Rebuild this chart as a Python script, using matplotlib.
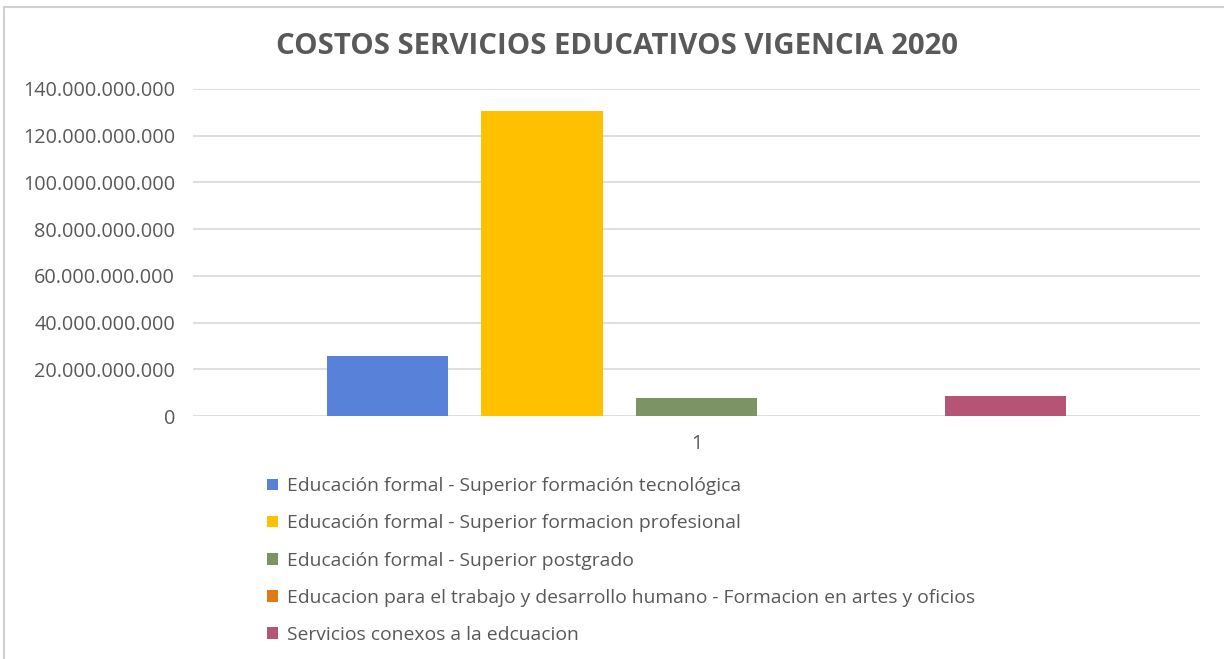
import matplotlib.pyplot as plt
from matplotlib.patches import Rectangle
from matplotlib.ticker import FuncFormatter

plt.rcParams['font.family'] = ['Open Sans', 'DejaVu Sans']

# Costs per service, 2020 (single category "1")
series = [
    "Educación formal - Superior formación tecnológica",
    "Educación formal - Superior formacion profesional",
    "Educación formal - Superior postgrado",
    "Educacion para el trabajo y desarrollo humano - Formacion en artes y oficios",
    "Servicios conexos a la edcuacion",
]
values = [25.7e9, 130.6e9, 7.6e9, 0.0, 8.6e9]
colors = ["#5882DA", "#FFC000", "#7C9363", "#E07B13", "#B55474"]
category = "1"
y_ticks = [0, 20e9, 40e9, 60e9, 80e9, 100e9, 120e9, 140e9]

fig = plt.figure(figsize=(12.24, 6.59), dpi=100)
fig.patches.append(Rectangle((4 / 1224, -0.01), 1.02, 1 - 7 / 659 + 0.01,
                             transform=fig.transFigure, fill=False,
                             edgecolor="#d0d0d0", linewidth=1.5))

ax = fig.add_axes([193 / 1224, 1 - 416 / 659, 1007 / 1224, 327 / 659])
pos = list(range(len(values)))
bars = []
for i, (v, c, lab) in enumerate(zip(values, colors, series)):
    bars.append(ax.bar(pos[i], v, width=0.785, color=c, label=lab, zorder=3))

ax.set_xlim(2 - 3.26, 2 + 3.26)
ax.set_ylim(0, 140e9)
ax.set_yticks(y_ticks)
ax.yaxis.set_major_formatter(FuncFormatter(lambda v, p: f"{int(v):,}".replace(",", ".")))
ax.set_xticks([2])
ax.set_xticklabels([category])
ax.grid(axis="y", color="#d9d9d9", linewidth=1.2, zorder=0)
for s in ax.spines.values():
    s.set_visible(False)
ax.tick_params(length=0, labelsize=14.3, colors="#595959")
ax.tick_params(axis="y", pad=13)
ax.tick_params(axis="x", pad=13)

fig.text(617 / 1224, 1 - 46 / 659, "COSTOS SERVICIOS EDUCATIVOS VIGENCIA 2020",
         ha="center", va="center", fontsize=21.2, fontweight="bold", color="#595959")

fig.legend(handles=bars, loc="upper left", bbox_to_anchor=(250 / 1224, 1 - 460 / 659),
           frameon=False, fontsize=13.9, handlelength=0.55, handleheight=0.55,
           handletextpad=0.45, labelspacing=0.99, labelcolor="#595959")

fig.savefig("out.png", dpi=100)
